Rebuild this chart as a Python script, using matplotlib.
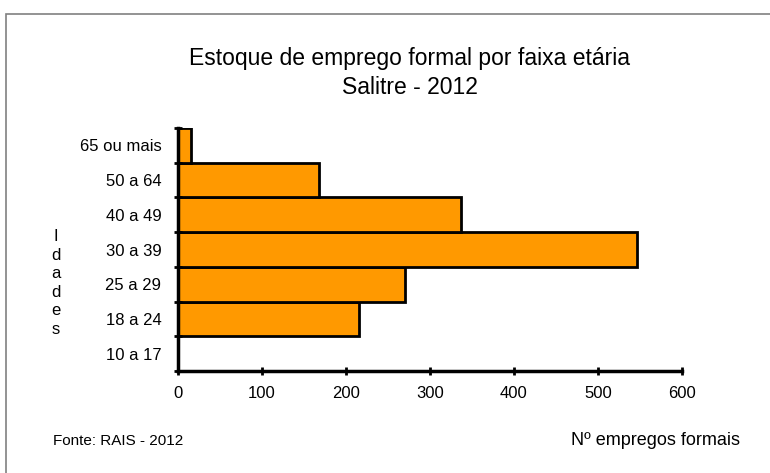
import matplotlib.pyplot as plt
from matplotlib.patches import Rectangle

plt.rcParams['font.family'] = ['Liberation Sans', 'DejaVu Sans']

faixas = ['10 a 17', '18 a 24', '25 a 29', '30 a 39', '40 a 49', '50 a 64', '65 ou mais']
empregos = [0, 215, 270, 546, 337, 168, 15]

fig = plt.figure(figsize=(7.7, 4.73), dpi=100)
fig.patches.append(Rectangle((6/770, -0.1), 1.2, 1 - 14/473 + 0.1, transform=fig.transFigure,
                             fill=False, edgecolor='#808080', linewidth=1.2))

ax = fig.add_axes([178/770, 1 - 371/473, 504/770, 243/473])
ypos = list(range(len(faixas)))
ax.barh(ypos, empregos, height=1.0, color='#FF9900', edgecolor='black', linewidth=2)

ax.set_xlim(0, 600)
ax.set_ylim(-0.5, len(faixas) - 0.5)
ax.set_xticks(range(0, 700, 100))
ax.set_yticks([y - 0.5 for y in ypos] + [len(faixas) - 0.5])
ax.set_yticklabels([])
ax.set_yticks(ypos, minor=True)
ax.set_yticklabels(faixas, minor=True)
ax.tick_params(axis='y', which='minor', length=0, pad=12, labelsize=12)
ax.tick_params(axis='y', which='major', length=6, width=2, direction='inout')
ax.tick_params(axis='x', length=6, width=2, direction='inout', labelsize=12, pad=8)
for s in ['top', 'right']:
    ax.spines[s].set_visible(False)
for s in ['left', 'bottom']:
    ax.spines[s].set_linewidth(2.5)

fig.text(410/770, 1 - 58/473, 'Estoque de emprego formal por faixa etária', ha='center', va='center', fontsize=16.5)
fig.text(410/770, 1 - 88/473, 'Salitre - 2012', ha='center', va='center', fontsize=16.5)
fig.text(56/770, 1 - 283/473, '\n'.join('Idades'), ha='center', va='center', fontsize=12, linespacing=1.3)
fig.text(53/770, 1 - 441/473, 'Fonte: RAIS - 2012', ha='left', va='center', fontsize=11)
fig.text(740/770, 1 - 440/473, 'Nº empregos formais', ha='right', va='center', fontsize=13)

fig.savefig('out.png', dpi=100)
